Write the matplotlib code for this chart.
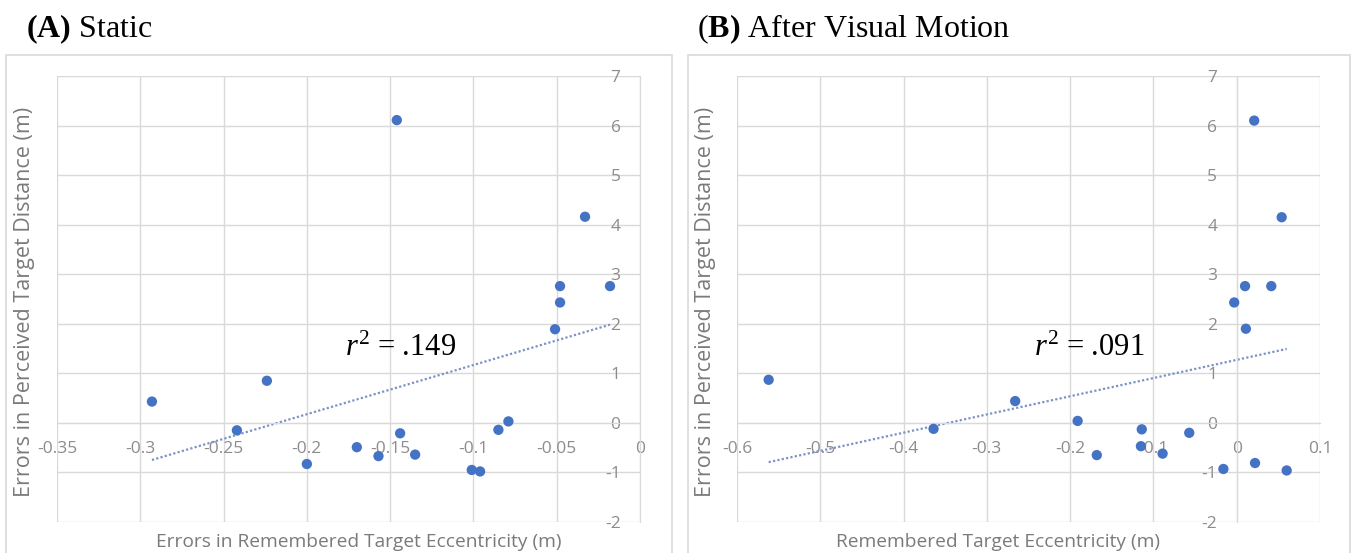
import numpy as np
import matplotlib
matplotlib.use("Agg")
import matplotlib.pyplot as plt
from matplotlib.patches import Rectangle

# panel A: static condition
static_x = [-0.293, -0.242, -0.224, -0.200, -0.170, -0.157, -0.146, -0.144, -0.135,
            -0.101, -0.096, -0.085, -0.079, -0.051, -0.048, -0.048, -0.033, -0.018]
static_y = [0.43, -0.15, 0.85, -0.83, -0.49, -0.67, 6.11, -0.21, -0.64,
            -0.95, -0.98, -0.14, 0.03, 1.89, 2.43, 2.76, 4.16, 2.76]

# panel B: after visual motion
motion_x = [-0.562, -0.364, -0.266, -0.191, -0.168, -0.114, -0.115, -0.089, -0.057,
            -0.016, -0.003, 0.010, 0.011, 0.021, 0.022, 0.0415, 0.054, 0.060]
motion_y = [0.87, -0.12, 0.44, 0.04, -0.65, -0.13, -0.47, -0.62, -0.20,
            -0.93, 2.43, 2.76, 1.90, 6.10, -0.81, 2.76, 4.15, -0.96]

static_xticks = [-0.35, -0.3, -0.25, -0.2, -0.15, -0.1, -0.05, 0]
static_xlabels = ["-0.35", "-0.3", "-0.25", "-0.2", "-0.15", "-0.1", "-0.05", "0"]
motion_xticks = [-0.6, -0.5, -0.4, -0.3, -0.2, -0.1, 0, 0.1]
motion_xlabels = ["-0.6", "-0.5", "-0.4", "-0.3", "-0.2", "-0.1", "0", "0.1"]
yticks = [-2, -1, 0, 1, 2, 3, 4, 5, 6, 7]

plt.rcParams["mathtext.fontset"] = "custom"
plt.rcParams["mathtext.rm"] = "Liberation Serif"
plt.rcParams["mathtext.it"] = "Liberation Serif:italic"
plt.rcParams["mathtext.bf"] = "Liberation Serif:bold"

W, H = 1352, 553
GRID = "#d9d9d9"
TICK = "#8c8c8c"
LABEL = "#7a7a7a"
DOT = "#4472C4"
TREND = "#7c93c6"

fig = plt.figure(figsize=(W / 100, H / 100), dpi=100)


def px_axes(left, top, right, bottom):
    return fig.add_axes([left / W, 1 - bottom / H, (right - left) / W, (bottom - top) / H])


def draw_panel(ax, xs, ys, xticks, xlabels):
    ax.set_xlim(xticks[0], xticks[-1])
    ax.set_ylim(yticks[0], yticks[-1])
    ax.set_xticks(xticks)
    ax.set_xticklabels(xlabels)
    ax.set_yticks(yticks)
    ax.set_yticklabels([str(v) for v in yticks])
    ax.grid(True, color=GRID, lw=1)
    ax.set_axisbelow(True)
    for side in ["top", "right"]:
        ax.spines[side].set_visible(False)
    ax.spines["left"].set_position(("data", 0))
    ax.spines["bottom"].set_position(("data", 0))
    ax.spines["left"].set_color(GRID)
    ax.spines["bottom"].set_color(GRID)
    ax.tick_params(length=0, colors=TICK, labelsize=12.5)
    ax.tick_params(axis="x", pad=13)
    ax.tick_params(axis="y", pad=14)
    for lab in ax.get_xticklabels() + ax.get_yticklabels():
        lab.set_family("Open Sans")

    # linear trend line
    slope, icpt = np.polyfit(xs, ys, 1)
    tx = np.array([min(xs), max(xs)])
    ax.plot(tx, slope * tx + icpt, ls=(0, (1, 1)), color=TREND, lw=1.6, zorder=2)
    ax.scatter(xs, ys, s=55, color=DOT, edgecolors="none", zorder=3)
    ax.set_facecolor("none")


# chart area frames
for left, right in [(6, 672), (688, 1350)]:
    fig.add_artist(Rectangle((left / W, -0.2), (right - left) / W, 1.2 - 55 / H,
                             transform=fig.transFigure, fill=False, ec=GRID, lw=1.2))

ax_a = px_axes(57, 76, 640, 522)
draw_panel(ax_a, static_x, static_y, static_xticks, static_xlabels)
ax_b = px_axes(737, 76, 1320, 522)
draw_panel(ax_b, motion_x, motion_y, motion_xticks, motion_xlabels)

serif = "Liberation Serif"
fig.text(26 / W, 1 - 37 / H, r"$\mathbf{(A)}$ Static", family=serif, fontsize=23)
fig.text(697 / W, 1 - 37 / H, r"($\mathbf{B)}$ After Visual Motion", family=serif, fontsize=23)

fig.text(345 / W, 1 - 356 / H, r"$r^2$ = .149", family=serif, fontsize=22)
fig.text(1034 / W, 1 - 356 / H, r"$r^2$ = .091", family=serif, fontsize=22)

ytitle = "Errors in Perceived Target Distance (m)"
fig.text(25 / W, 1 - 302 / H, ytitle, rotation=90, ha="center", va="center",
         family="Open Sans", fontsize=15.5, color=LABEL)
fig.text(706 / W, 1 - 302 / H, ytitle, rotation=90, ha="center", va="center",
         family="Open Sans", fontsize=15.5, color=LABEL)
fig.text(359 / W, 1 - 542 / H, "Errors in Remembered Target Eccentricity (m)",
         ha="center", va="center", family="Open Sans", fontsize=13.8, color=LABEL)
fig.text(998 / W, 1 - 542 / H, "Remembered Target Eccentricity (m)",
         ha="center", va="center", family="Open Sans", fontsize=13.8, color=LABEL)

fig.savefig("out.png", dpi=100)
